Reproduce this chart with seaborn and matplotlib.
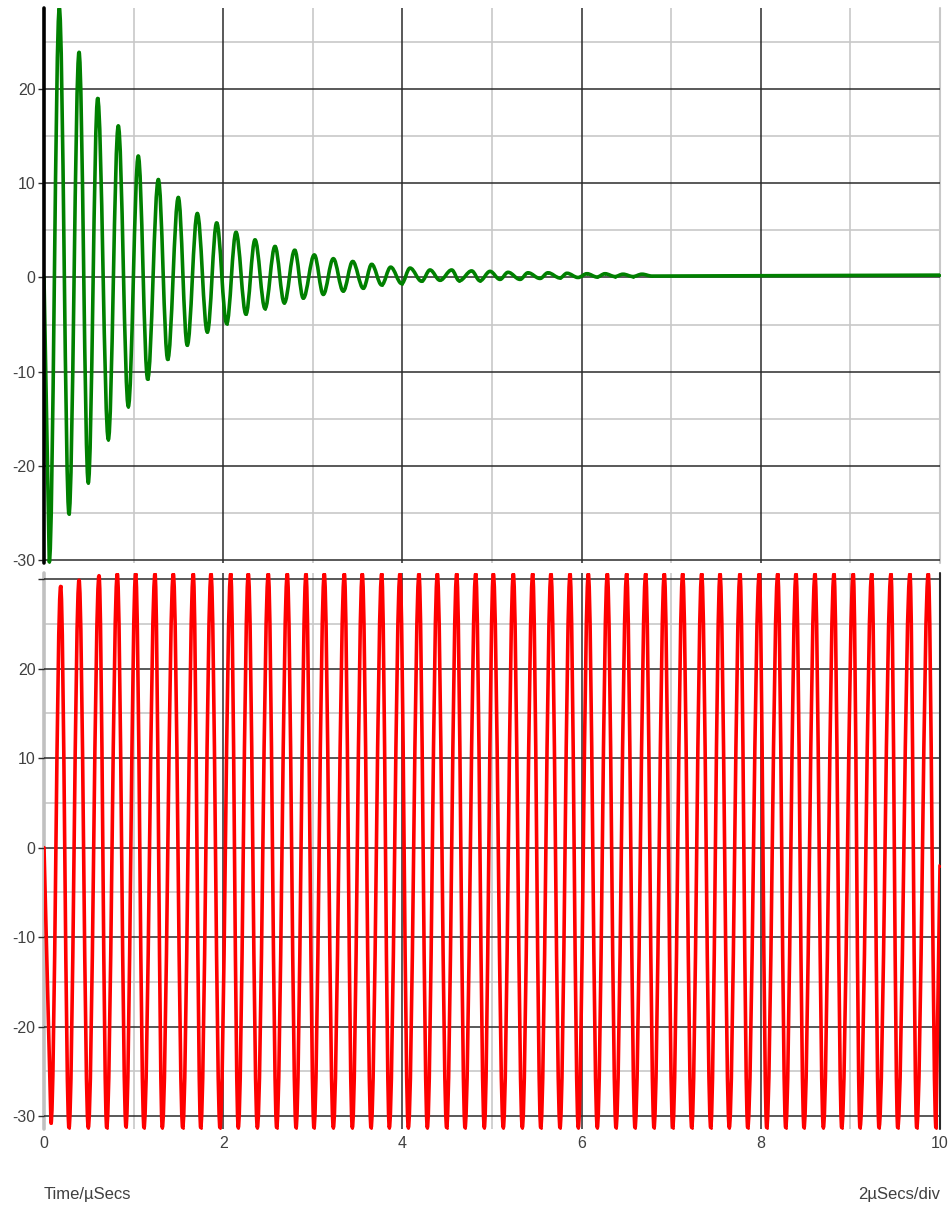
import numpy as np
import pandas as pd
import matplotlib
matplotlib.use("Agg")
import matplotlib.pyplot as plt
from matplotlib.path import Path
from matplotlib.patches import PathPatch
import seaborn as sns

# ---- Damped response (top trace): alternating troughs / peaks, time in µs ----
green_trough_t = [0.059, 0.279, 0.494, 0.718, 0.941, 1.157, 1.381, 1.599, 1.823, 2.039,
                  2.254, 2.467, 2.682, 2.894, 3.117, 3.340, 3.564, 3.769, 3.992, 4.215,
                  4.420, 4.635, 4.866, 5.089, 5.313, 5.536, 5.759, 5.960, 6.172, 6.373,
                  6.574, 6.786]
green_trough_v = [-30.2, -25.1, -21.8, -17.2, -13.7, -10.8, -8.7, -7.2, -5.8, -4.9,
                  -3.9, -3.3, -2.7, -2.2, -1.8, -1.45, -1.15, -0.8, -0.65, -0.4,
                  -0.3, -0.35, -0.35, -0.2, -0.2, -0.1, -0.05, 0.0, 0.05, 0.1,
                  0.1, 0.15]
green_peak_t = [0.171, 0.391, 0.599, 0.829, 1.052, 1.276, 1.499, 1.711, 1.927, 2.143,
                2.355, 2.578, 2.798, 3.017, 3.229, 3.445, 3.657, 3.869, 4.085, 4.308,
                4.550, 4.773, 4.978, 5.179, 5.402, 5.625, 5.837, 6.060, 6.261, 6.462,
                6.674]
green_peak_v = [28.6, 23.9, 19.0, 16.1, 12.9, 10.4, 8.5, 6.8, 5.8, 4.8,
                4.0, 3.3, 2.9, 2.4, 2.0, 1.7, 1.4, 1.1, 1.0, 0.8,
                0.8, 0.7, 0.65, 0.55, 0.5, 0.5, 0.45, 0.4, 0.4, 0.35,
                0.35]
green_start = (0.0, 0.0)
green_end = (10.0, 0.25)

# ---- Sustained oscillation (bottom trace) ----
red_trough_t = [0.078, 0.279, 0.494, 0.700, 0.915, 1.116, 1.320, 1.548, 1.749, 1.964,
                2.168, 2.381, 2.597, 2.813, 3.013, 3.229, 3.441, 3.650, 3.854, 4.066,
                4.278, 4.494, 4.699, 4.914, 5.126, 5.338, 5.544, 5.759, 5.963, 6.175,
                6.384, 6.596, 6.808, 7.017, 7.229, 7.441, 7.648, 7.854, 8.066, 8.278,
                8.482, 8.698, 8.903, 9.107, 9.319, 9.528, 9.740, 9.955]
red_trough_v = [-30.8, -31.3, -31.3, -31.3, -31.2, -31.3, -31.3, -31.3, -31.3, -31.3,
                -31.3, -31.3, -31.3, -31.3, -31.3, -31.3, -31.3, -31.3, -31.3, -31.3,
                -31.3, -31.3, -31.3, -31.3, -31.3, -31.3, -31.3, -31.3, -31.3, -31.3,
                -31.3, -31.3, -31.3, -31.3, -31.3, -31.3, -31.3, -31.3, -31.3, -31.3,
                -31.3, -31.3, -31.3, -31.3, -31.3, -31.3, -31.3, -31.3]
red_peak_t = [0.186, 0.391, 0.614, 0.818, 1.023, 1.239, 1.443, 1.666, 1.864, 2.084,
              2.280, 2.503, 2.715, 2.924, 3.128, 3.352, 3.552, 3.769, 3.973, 4.185,
              4.390, 4.606, 4.818, 5.015, 5.238, 5.454, 5.658, 5.871, 6.075, 6.287,
              6.503, 6.715, 6.923, 7.128, 7.340, 7.545, 7.768, 7.983, 8.189, 8.393,
              8.605, 8.817, 9.032, 9.238, 9.453, 9.665, 9.869]
red_peak_v = [29.2, 29.9, 30.4, 30.6, 30.6, 30.6, 30.6, 30.6, 30.6, 30.6,
              30.6, 30.6, 30.6, 30.6, 30.6, 30.6, 30.6, 30.6, 30.6, 30.6,
              30.6, 30.6, 30.6, 30.6, 30.6, 30.6, 30.6, 30.6, 30.6, 30.6,
              30.6, 30.6, 30.6, 30.6, 30.6, 30.6, 30.6, 30.6, 30.6, 30.6,
              30.6, 30.6, 30.6, 30.6, 30.6, 30.6, 30.6]
red_start = (0.0, 0.0)
red_end = (10.0, -2.0)

x_ticks = [0, 2, 4, 6, 8, 10]
y_ticks_top = [-30, -20, -10, 0, 10, 20]
y_ticks_bottom = [-30, -20, -10, 0, 10, 20, 30]
x_label_left = "Time/µSecs"
x_label_right = "2µSecs/div"


def trace_frame(start, first_t, first_v, second_t, second_v, end):
    """Merge two alternating extrema lists into one time-ordered trace."""
    ts, vs = [start[0]], [start[1]]
    for i in range(max(len(first_t), len(second_t))):
        if i < len(first_t):
            ts.append(first_t[i]); vs.append(first_v[i])
        if i < len(second_t):
            ts.append(second_t[i]); vs.append(second_v[i])
    ts.append(end[0]); vs.append(end[1])
    return pd.DataFrame({"t": ts, "v": vs})


def swing_path(df):
    """Cubic path through the extrema: flat tangent at every turning point,
    straight lead-in and lead-out segments."""
    t = df["t"].to_numpy()
    v = df["v"].to_numpy()
    k = 0.3634  # control-arm length giving a cosine-like half swing
    verts = [(t[0], v[0]), (t[1], v[1])]
    codes = [Path.MOVETO, Path.LINETO]
    for i in range(1, len(t) - 2):
        dt = t[i + 1] - t[i]
        verts += [(t[i] + k * dt, v[i]), (t[i + 1] - k * dt, v[i + 1]), (t[i + 1], v[i + 1])]
        codes += [Path.CURVE4] * 3
    verts.append((t[-1], v[-1]))
    codes.append(Path.LINETO)
    return Path(verts, codes)


green_df = trace_frame(green_start, green_trough_t, green_trough_v,
                       green_peak_t, green_peak_v, green_end)
red_df = trace_frame(red_start, red_trough_t, red_trough_v,
                     red_peak_t, red_peak_v, red_end)

sns.set_style("white")
plt.rcParams["font.family"] = ["Liberation Sans", "DejaVu Sans"]

W, H = 951, 1207
fig = plt.figure(figsize=(W / 100, H / 100), dpi=100)
fig.patch.set_facecolor("white")

left = 44 / W
width = (940 - 44) / W
ax_top = fig.add_axes([left, (H - 563) / H, width, (563 - 8) / H])
ax_bot = fig.add_axes([left, (H - 1129) / H, width, (1129 - 573) / H])

MAJOR = "#2b2b2b"
MINOR = "#c8c8c8"
TXT = "#404040"
FS = 11.5


def dress(ax, ylim, yticks, ylabels):
    ax.set_xlim(0, 10)
    ax.set_ylim(*ylim)
    for s in ax.spines.values():
        s.set_visible(False)
    # light minor grid
    for x in [1, 3, 5, 7, 9]:
        ax.axvline(x, color=MINOR, lw=1.2, zorder=0)
    for y in np.arange(-25, 31, 10):
        ax.axhline(y, color=MINOR, lw=1.2, zorder=0)
    # dark major grid
    for x in [2, 4, 6, 8]:
        ax.axvline(x, color=MAJOR, lw=1.1, zorder=0.5)
    for y in yticks:
        ax.axhline(y, color=MAJOR, lw=1.1, zorder=0.5)
    ax.set_yticks(yticks)
    ax.set_yticklabels(ylabels)
    ax.tick_params(axis="y", length=4, width=1, color=MAJOR, pad=2,
                   labelsize=FS, labelcolor=TXT, left=True)
    ax.set_xlabel("")
    ax.set_ylabel("")


# turning points of each trace
sns.scatterplot(data=green_df, x="t", y="v", ax=ax_top, color="#008000",
                s=4, linewidth=0, zorder=3)
sns.scatterplot(data=red_df, x="t", y="v", ax=ax_bot, color="#ff0000",
                s=4, linewidth=0, zorder=3)
# the traces themselves
ax_top.add_patch(PathPatch(swing_path(green_df), fill=False, edgecolor="#008000",
                           lw=2.6, capstyle="round", joinstyle="round", zorder=3))
ax_bot.add_patch(PathPatch(swing_path(red_df), fill=False, edgecolor="#ff0000",
                           lw=2.6, capstyle="round", joinstyle="round", zorder=3))

dress(ax_top, (-30.3, 28.6), y_ticks_top, [str(v) for v in y_ticks_top])
dress(ax_bot, (-31.45, 30.7), y_ticks_bottom,
      [str(v) if v < 30 else "" for v in y_ticks_bottom])

# panel edges
ax_top.axvline(0, color="black", lw=2.6, zorder=4, clip_on=False)
ax_top.axvline(10, color=MINOR, lw=1.5, zorder=0, clip_on=False)
ax_bot.axvline(0, color="#c0c0c0", lw=2.6, zorder=0.2, clip_on=False)
ax_bot.axvline(10, color=MAJOR, lw=1.5, zorder=0.5, clip_on=False)

ax_top.set_xticks(x_ticks)
ax_top.tick_params(axis="x", bottom=False, labelbottom=False)
ax_bot.set_xticks(x_ticks)
ax_bot.set_xticklabels([str(v) for v in x_ticks])
ax_bot.tick_params(axis="x", length=0, pad=5, labelsize=FS, labelcolor=TXT)

fig.text(44 / W, (H - 1195) / H, x_label_left, ha="left", va="center",
         fontsize=12, color=TXT)
fig.text(940 / W, (H - 1195) / H, x_label_right, ha="right", va="center",
         fontsize=12, color=TXT)

fig.savefig("out.png", dpi=100, facecolor="white")
